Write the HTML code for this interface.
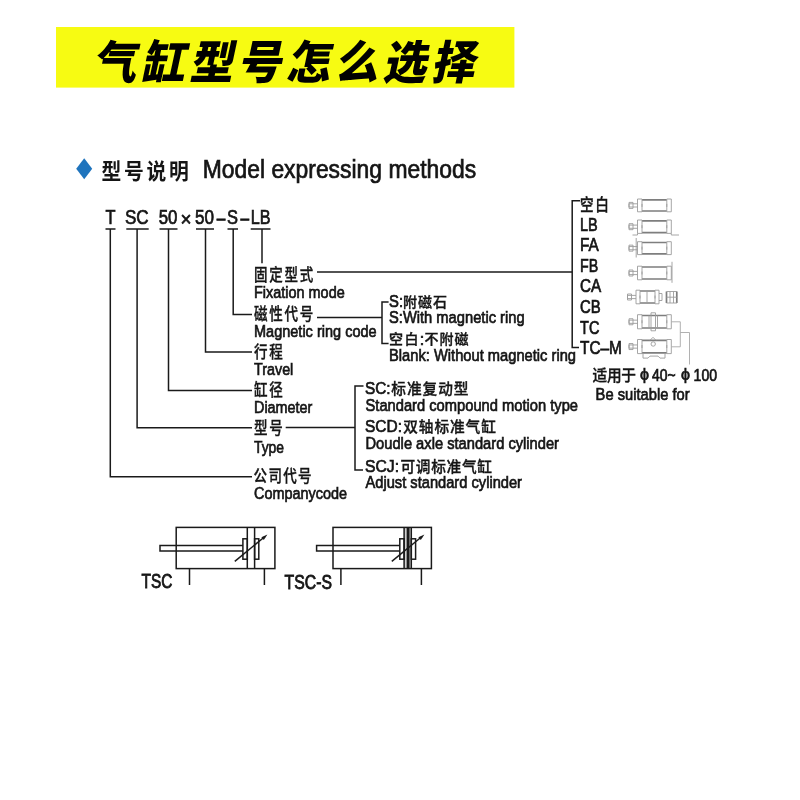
<!DOCTYPE html>
<html lang="zh">
<head>
<meta charset="utf-8">
<title>气缸型号怎么选择</title>
<style>
html,body{margin:0;padding:0;background:#fff;}
body{width:800px;height:800px;overflow:hidden;position:relative;}
svg{position:absolute;left:0;top:0;display:block;will-change:transform;opacity:0.999;}
text{font-family:"Liberation Sans","Noto Sans CJK SC",sans-serif;fill:#151515;stroke:#151515;stroke-width:0.7;}
.cj{font-family:"Noto Sans CJK SC","Liberation Sans",sans-serif;font-weight:500;stroke-width:0.35;}
.ln{stroke:#1a1a1a;stroke-width:1.5;fill:none;}
.sym{stroke:#1a1a1a;stroke-width:1.5;fill:none;}
.ic{stroke:#9c9c9c;stroke-width:0.9;fill:none;}
.ib{stroke:#7e7e7e;stroke-width:1.7;fill:none;}
.il{stroke:#a8a8a8;stroke-width:0.9;fill:none;}
</style>
</head>
<body>
<svg width="800" height="800" viewBox="0 0 800 800">
<!-- title -->
<rect x="56" y="27" width="458.4" height="60.6" fill="#f7fb12"/>
<g transform="translate(92.3,79) skewX(-12) scale(0.95,1)">
<text class="cj" x="0" y="0" font-size="46" letter-spacing="4.9" style="fill:#000;stroke:none;font-weight:900">气缸型号怎么选择</text>
</g>
<!-- subtitle -->
<polygon points="84.2,158.2 92.2,168.7 84.2,179.2 76.2,168.7" fill="#1f74bd"/>
<text class="cj" transform="translate(101.6,179) scale(0.9,1)" font-size="22" letter-spacing="3.00" style="font-weight:700;stroke:none">型号说明</text>
<text x="202.7" y="178.2" font-size="25" textLength="273.5" lengthAdjust="spacingAndGlyphs">Model expressing methods</text>
<text x="105.5" y="224.2" font-size="20" textLength="10" lengthAdjust="spacingAndGlyphs">T</text>
<text x="125" y="224.2" font-size="20" textLength="23.7" lengthAdjust="spacingAndGlyphs">SC</text>
<text x="158.7" y="224.2" font-size="20" textLength="18.8" lengthAdjust="spacingAndGlyphs">50</text>
<text x="180.5" y="225.7" font-size="20" textLength="11" lengthAdjust="spacingAndGlyphs">×</text>
<text x="195" y="224.2" font-size="20" textLength="19" lengthAdjust="spacingAndGlyphs">50</text>
<text x="216.7" y="225.0" font-size="20" textLength="8.6" lengthAdjust="spacingAndGlyphs">–</text>
<text x="227" y="224.2" font-size="20" textLength="11" lengthAdjust="spacingAndGlyphs">S</text>
<text x="240.5" y="225.0" font-size="20" textLength="8.6" lengthAdjust="spacingAndGlyphs">–</text>
<text x="250.7" y="224.2" font-size="20" textLength="19.8" lengthAdjust="spacingAndGlyphs">LB</text>
<!-- underlines + leader lines -->
<path class="ln" d="M105.5 229H115.5 M126.3 229H148.7 M159.5 229H177.5 M196 229H214 M227.5 229H238 M250.7 229H270.5"/>
<path class="ln" d="M262 229V263.2"/>
<path class="ln" d="M233.2 229V314.5H252"/>
<path class="ln" d="M205.5 229V352H252"/>
<path class="ln" d="M168.5 229V390.6H252"/>
<path class="ln" d="M137.1 229V427.8H252"/>
<path class="ln" d="M110.3 229V476.7H252"/>
<path class="ln" d="M317 272H572.2"/>
<path class="ln" d="M317 317.5H382"/>
<path class="ln" d="M285.7 427.6H355"/>
<path class="ln" d="M388.6 302H382V343.6H388.6"/>
<path class="ln" d="M363.5 386H355V470H363"/>
<path class="ln" d="M580 200.7H572.2V347.4H579"/>
<text class="cj" transform="translate(254,280.9) scale(0.82,1)" font-size="16.5" letter-spacing="2.10">固定型式</text>
<text x="254" y="297.8" font-size="17.2" textLength="90.7" lengthAdjust="spacingAndGlyphs">Fixation mode</text>
<text class="cj" transform="translate(254,319.7) scale(0.82,1)" font-size="16.5" letter-spacing="2.10">磁性代号</text>
<text x="254" y="336.7" font-size="17.2" textLength="122.6" lengthAdjust="spacingAndGlyphs">Magnetic ring code</text>
<text class="cj" transform="translate(254,358.1) scale(0.82,1)" font-size="16.5" letter-spacing="2.10">行程</text>
<text x="254" y="375" font-size="17.2" textLength="39.3" lengthAdjust="spacingAndGlyphs">Travel</text>
<text class="cj" transform="translate(254,396.4) scale(0.82,1)" font-size="16.5" letter-spacing="2.10">缸径</text>
<text x="254" y="413.4" font-size="17.2" textLength="58.4" lengthAdjust="spacingAndGlyphs">Diameter</text>
<text class="cj" transform="translate(254,433.7) scale(0.82,1)" font-size="16.5" letter-spacing="2.10">型号</text>
<text x="254" y="452.7" font-size="17.2" textLength="30" lengthAdjust="spacingAndGlyphs">Type</text>
<text class="cj" transform="translate(253.6,482) scale(0.82,1)" font-size="16.5" letter-spacing="1.55">公司代号</text>
<text x="254" y="498.8" font-size="17.2" textLength="93" lengthAdjust="spacingAndGlyphs">Companycode</text>
<text x="389" y="307.2" font-size="17.2" textLength="14" lengthAdjust="spacingAndGlyphs">S:</text>
<text class="cj" transform="translate(403,306.6) scale(1,1)" font-size="14" letter-spacing="1.00">附磁石</text>
<text x="389" y="323" font-size="17.2" textLength="135.6" lengthAdjust="spacingAndGlyphs">S:With magnetic ring</text>
<text class="cj" transform="translate(389,344) scale(1,1)" font-size="14" letter-spacing="1.40">空白</text>
<text x="419.8" y="344.6" font-size="17.2" textLength="4.5" lengthAdjust="spacingAndGlyphs">:</text>
<text class="cj" transform="translate(424.6,344) scale(1,1)" font-size="14" letter-spacing="1.00">不附磁</text>
<text x="389" y="361.4" font-size="17.2" textLength="187" lengthAdjust="spacingAndGlyphs">Blank: Without magnetic ring</text>
<text x="365" y="393.5" font-size="17.2" textLength="25.6" lengthAdjust="spacingAndGlyphs">SC:</text>
<text class="cj" transform="translate(391.3,393.6) scale(0.96,1)" font-size="15.3" letter-spacing="1.00">标准复动型</text>
<text x="365.5" y="410.6" font-size="17.2" textLength="212.5" lengthAdjust="spacingAndGlyphs">Standard compound motion type</text>
<text x="365" y="431.7" font-size="17.2" textLength="37" lengthAdjust="spacingAndGlyphs">SCD:</text>
<text class="cj" transform="translate(403.2,431.5) scale(0.96,1)" font-size="15.3" letter-spacing="0.95">双轴标准气缸</text>
<text x="365.5" y="448.9" font-size="17.2" textLength="193.5" lengthAdjust="spacingAndGlyphs">Doudle axle standard cylinder</text>
<text x="365" y="471.7" font-size="17.2" textLength="34" lengthAdjust="spacingAndGlyphs">SCJ:</text>
<text class="cj" transform="translate(400.4,471.8) scale(0.96,1)" font-size="15.3" letter-spacing="0.74">可调标准气缸</text>
<text x="365.5" y="488.2" font-size="17.2" textLength="156.5" lengthAdjust="spacingAndGlyphs">Adjust standard cylinder</text>
<text class="cj" transform="translate(580,210.7) scale(0.78,1)" font-size="17.5" letter-spacing="1.99">空白</text>
<text x="580" y="230.8" font-size="18" textLength="17.7" lengthAdjust="spacingAndGlyphs">LB</text>
<text x="580" y="251.3" font-size="18" textLength="18.8" lengthAdjust="spacingAndGlyphs">FA</text>
<text x="580" y="271.8" font-size="18" textLength="18.2" lengthAdjust="spacingAndGlyphs">FB</text>
<text x="580" y="292" font-size="18" textLength="21.2" lengthAdjust="spacingAndGlyphs">CA</text>
<text x="580" y="312.5" font-size="18" textLength="20.7" lengthAdjust="spacingAndGlyphs">CB</text>
<text x="580" y="333.6" font-size="18" textLength="19.4" lengthAdjust="spacingAndGlyphs">TC</text>
<text x="580" y="354.1" font-size="18" textLength="41.9" lengthAdjust="spacingAndGlyphs">TC–M</text>
<text class="cj" transform="translate(592.6,380.6) scale(0.93,1)" font-size="15.8" letter-spacing="-0.42">适用于</text>
<text x="640" y="380.2" font-size="17" textLength="9" lengthAdjust="spacingAndGlyphs">ϕ</text>
<text x="652" y="381" font-size="16" textLength="23.6" lengthAdjust="spacingAndGlyphs">40~</text>
<text x="681" y="380.2" font-size="17" textLength="9" lengthAdjust="spacingAndGlyphs">ϕ</text>
<text x="693.6" y="381" font-size="16" textLength="23.4" lengthAdjust="spacingAndGlyphs">100</text>
<text x="595.6" y="400.4" font-size="17.2" textLength="94" lengthAdjust="spacingAndGlyphs">Be suitable for</text>
<!-- TSC symbol -->
<g class="sym">
<rect x="176.2" y="527.4" width="98.7" height="41.2"/>
<path d="M247.3 527.4V568.6 M254.6 527.4V568.6"/>
<rect x="242.9" y="538.8" width="4.4" height="20.4"/>
<rect x="254.6" y="538.8" width="4.2" height="20.4"/>
<path d="M242.9 545.6H160V551H242.9"/>
<path d="M234.8 561.3L265 536.5"/>
<path d="M189.5 568.6V585 M264.4 568.6V585"/>
</g>
<path d="M267.4 534.6L261.4 537.2L263.8 540.1Z" fill="#1a1a1a"/>
<text x="141.6" y="588" font-size="19.3" textLength="30.8" lengthAdjust="spacingAndGlyphs" style="stroke-width:0.85">TSC</text>
<!-- TSC-S symbol -->
<g class="sym">
<rect x="404.1" y="527.4" width="7.2" height="41.2" fill="#cfcfcf" stroke="none"/>
<rect x="333" y="527.4" width="98.4" height="41.2"/>
<path d="M404.1 527.4V568.6 M411.3 527.4V568.6"/>
<path d="M408.1 527.4V568.6" stroke-width="2.9"/>
<rect x="399.8" y="538.8" width="4.3" height="20.4"/>
<rect x="411.3" y="538.8" width="4.3" height="20.4"/>
<path d="M399.8 545.6H316.6V551H399.8"/>
<path d="M391.8 561.3L422 536.5"/>
<path d="M340.9 568.6V585 M421.4 568.6V585"/>
</g>
<path d="M424.4 534.6L418.4 537.2L420.8 540.1Z" fill="#1a1a1a"/>
<text x="284.6" y="588.7" font-size="19.3" textLength="47.3" lengthAdjust="spacingAndGlyphs" style="stroke-width:0.85">TSC-S</text>
<g>
<path class="ib" d="M642.0 199.8H666.8 M642.0 211H666.8"/><path class="ic" d="M637.5 199.0H642.0V211.8H637.5Z M666.8 199.0H671.3V211.8H666.8Z"/><path class="ic" d="M642.0 203.9v3 M666.8 203.9v3"/><path class="ic" d="M637.5 203.8H629.0V207.0H637.5 M629.0 202.4h4v6h-4Z"/>
<path class="ib" d="M642.0 220.8H666.8 M642.0 232.6H666.8"/><path class="ic" d="M637.5 220.0H642.0V233.4H637.5Z M666.8 220.0H671.3V233.4H666.8Z"/><path class="ic" d="M642.0 225.2v3 M666.8 225.2v3"/><path class="ic" d="M637.5 225.1H629.0V228.29999999999998H637.5 M629.0 223.7h4v6h-4Z"/>
<path class="ic" d="M637.5 233.4V235H632.5 M671.3 233.4V235H679"/>
<path class="ib" d="M642.0 242.5H666.8 M642.0 253.8H666.8"/><path class="ic" d="M637.5 241.7H642.0V254.60000000000002H637.5Z M666.8 241.7H671.3V254.60000000000002H666.8Z"/><path class="ic" d="M642.0 246.65v3 M666.8 246.65v3"/><path class="ic" d="M637.5 246.55H629.0V249.75H637.5 M629.0 245.15h4v6h-4Z"/>
<path class="ic" d="M636.2 238V257.5"/>
<path class="ib" d="M642.0 267H666.8 M642.0 279H666.8"/><path class="ic" d="M637.5 266.2H642.0V279.8H637.5Z M666.8 266.2H671.3V279.8H666.8Z"/><path class="ic" d="M642.0 271.5v3 M666.8 271.5v3"/><path class="ic" d="M637.5 271.4H629.0V274.6H637.5 M629.0 270.0h4v6h-4Z"/>
<path class="ic" d="M672 261.8V282.8"/>
<path class="ib" d="M640 291H655 M640 303H655"/><path class="ic" d="M636 290.2H640V303.8H636Z M655 290.2H659V303.8H655Z"/><path class="ic" d="M640 295.5v3 M655 295.5v3"/><path class="ic" d="M636 295.4H627.5V298.6H636 M627.5 294.0h4v6h-4Z"/>
<path class="ic" d="M659 293.5h3v7h-3 M647 290.5V303.5"/>
<path class="ib" d="M666.5 291.5V303 M676.8 291.5V303"/><path class="ic" d="M666.5 291.5H677 M666.5 303H677 M666.5 297.2H677 M670 291.5V303 M673.5 291.5V303"/>
<path class="ib" d="M642.0 315.5H666.8 M642.0 328H666.8"/><path class="ic" d="M637.5 314.7H642.0V328.8H637.5Z M666.8 314.7H671.3V328.8H666.8Z"/><path class="ic" d="M642.0 320.25v3 M666.8 320.25v3"/><path class="ic" d="M637.5 320.15H629.0V323.35H637.5 M629.0 318.75h4v6h-4Z"/>
<path class="ic" d="M651 312.8h4.5v18h-4.5Z M649 315.5v12.5 M657.5 315.5v12.5"/>
<path class="ib" d="M642.0 340.3H666.8 M642.0 352.8H666.8"/><path class="ic" d="M637.5 339.5H642.0V353.6H637.5Z M666.8 339.5H671.3V353.6H666.8Z"/><path class="ic" d="M642.0 345.05v3 M666.8 345.05v3"/><path class="ic" d="M637.5 344.95H629.0V348.15000000000003H637.5 M629.0 343.55h4v6h-4Z"/>
<path class="ic" d="M650 340.3l3 -3l3 3 M651 344a2.2 2.2 0 1 0 4.4 0a2.2 2.2 0 1 0 -4.4 0 M643 353.6v4.5h5l2 -2h8l2 2h5v-4.5"/>
<path class="il" d="M671.3 321.8H680.3V346.8H671.3 M680.3 332.5H689.5V364.5"/>
</g>
</svg>
</body>
</html>
